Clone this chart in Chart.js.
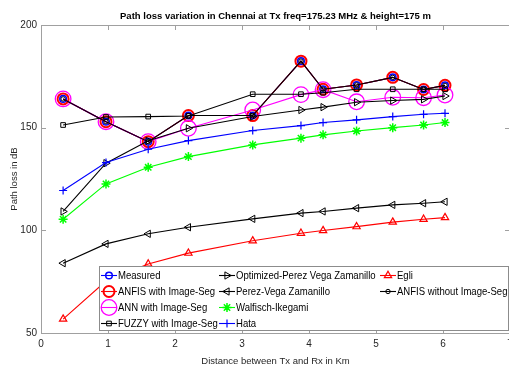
<!DOCTYPE html>
<html>
<head>
<meta charset="utf-8">
<script src="https://cdn.jsdelivr.net/npm/chart.js@4.4.1/dist/chart.umd.min.js"></script>
<style>
  html, body { margin: 0; padding: 0; background: #fff; overflow: hidden; }
  #wrap { width: 550px; height: 372px; }
</style>
</head>
<body>
<div id="wrap"><canvas id="pathLoss" width="550" height="372"></canvas></div>
<script>
// distance between Tx and Rx (km)
const distance = [0.33, 0.97, 1.6, 2.2, 3.16, 3.88, 4.21, 4.71, 5.25, 5.71, 6.03];

// path loss values (dB) per model
const measured   = [164.0, 152.9, 143.2, 155.9, 155.9, 182.4, 168.7, 170.8, 174.5, 168.6, 170.6];
const anfisSeg   = [164.0, 152.9, 143.2, 155.9, 155.9, 182.4, 168.7, 170.8, 174.5, 168.6, 170.6];
const annSeg     = [164.0, 152.9, 143.2, 149.7, 158.6, 166.1, 168.5, 162.6, 164.8, 164.6, 165.9];
const fuzzySeg   = [151.3, 155.2, 155.4, 155.7, 166.3, 166.3, 167.0, 168.7, 168.7, 168.7, 168.7];
const optPerez   = [109.2, 132.7, 143.6, 149.7, 155.4, 158.6, 160.0, 162.4, 163.2, 163.8, 165.4];
const perezVega  = [84.0, 93.4, 98.3, 101.5, 105.6, 108.4, 109.2, 110.8, 112.4, 113.2, 113.9];
const walfisch   = [105.4, 122.6, 130.7, 135.9, 141.6, 144.9, 146.5, 148.4, 150.0, 151.3, 152.5];
const hata       = [119.4, 133.0, 139.5, 143.7, 148.6, 151.0, 152.5, 153.8, 155.4, 156.5, 157.0];
const egli       = [56.8, 75.3, 83.6, 88.9, 94.9, 98.6, 99.9, 101.8, 104.0, 105.4, 106.2];
const anfisNoSeg = [164.0, 152.9, 143.2, 155.9, 155.9, 182.4, 168.7, 170.8, 174.5, 168.6, 170.6];

const xTicks = [0, 1, 2, 3, 4, 5, 6, 7];
const yTicks = [50, 100, 150, 200];

const FONT = "'Liberation Sans', Arial, sans-serif";
Chart.defaults.font.family = FONT;
Chart.defaults.color = '#262626';

function pts(values) {
  return values.map((v, i) => ({ x: distance[i], y: v }));
}

function series(label, values, color, style, radius, width, extra) {
  return Object.assign({
    label: label,
    data: pts(values),
    borderColor: color,
    backgroundColor: 'transparent',
    borderWidth: 1.1,
    pointStyle: style,
    pointRadius: radius,
    pointBorderColor: color,
    pointBackgroundColor: 'transparent',
    pointBorderWidth: width,
    pointRotation: 0,
    tension: 0
  }, extra || {});
}

const datasets = [
  series('Measured', measured, '#0000ff', 'circle', 3.3, 1.5),
  series('ANFIS with Image-Seg', anfisSeg, '#ff0000', 'circle', 5.5, 2),
  series('ANN with Image-Seg', annSeg, '#ff00ff', 'circle', 7.8, 1.3),
  series('FUZZY with Image-Seg', fuzzySeg, '#000000', 'rect', 3.3, 1),
  series('Optimized-Perez Vega Zamanillo', optPerez, '#000000', 'triangle', 4.2, 1, { pointRotation: 90 }),
  series('Perez-Vega Zamanillo', perezVega, '#000000', 'triangle', 4.2, 1, { pointRotation: -90 }),
  series('Walfisch-Ikegami', walfisch, '#00ff00', 'star', 4.5, 1.5),
  series('Hata', hata, '#0000ff', 'cross', 4, 1.2),
  series('Egli', egli, '#ff0000', 'triangle', 4.2, 1.2),
  series('ANFIS without Image-Seg', anfisNoSeg, '#000000', 'circle', 2.2, 1)
];
// later series are drawn on top
datasets.forEach((d, i) => { d.order = datasets.length - i; });

// box with inward tick marks on all four sides
const axesBox = {
  id: 'axesBox',
  beforeDatasetsDraw(chart) {
    const { ctx, chartArea: a, scales } = chart;
    ctx.save();
    ctx.strokeStyle = '#a0a0a0';
    ctx.lineWidth = 1;
    ctx.beginPath();
    ctx.rect(Math.round(a.left) + 0.5, Math.round(a.top) + 0.5,
             Math.round(a.right - a.left), Math.round(a.bottom - a.top));
    const len = 5;
    xTicks.forEach(t => {
      const px = Math.round(scales.x.getPixelForValue(t)) + 0.5;
      ctx.moveTo(px, a.bottom); ctx.lineTo(px, a.bottom - len);
      ctx.moveTo(px, a.top); ctx.lineTo(px, a.top + len);
    });
    yTicks.forEach(t => {
      const py = Math.round(scales.y.getPixelForValue(t)) + 0.5;
      ctx.moveTo(a.left, py); ctx.lineTo(a.left + len, py);
      ctx.moveTo(a.right, py); ctx.lineTo(a.right - len, py);
    });
    ctx.stroke();
    ctx.restore();
  }
};

// three-column boxed legend in the lower right
const boxLegend = {
  id: 'boxLegend',
  afterDatasetsDraw(chart) {
    const { ctx, chartArea: a } = chart;
    const left = a.left + 58, top = a.bottom - 67;
    const right = a.right - 2, bottom = a.bottom - 3;
    ctx.save();
    ctx.fillStyle = '#ffffff';
    ctx.fillRect(left, top, right - left, bottom - top);
    ctx.strokeStyle = '#8c8c8c';
    ctx.lineWidth = 1;
    ctx.strokeRect(Math.round(left) + 0.5, Math.round(top) + 0.5,
                   Math.round(right - left), Math.round(bottom - top));

    const cols = [
      [0, 1, 2, 3],
      [4, 5, 6, 7],
      [8, 9]
    ];
    const colX = [left + 2, left + 120, left + 281];
    const rowH = 16;
    ctx.font = '10.5px ' + FONT;
    ctx.textBaseline = 'middle';
    cols.forEach((col, c) => {
      col.forEach((di, r) => {
        const ds = chart.data.datasets[di];
        const y = top + 9.5 + r * rowH;
        const x0 = colX[c];
        ctx.strokeStyle = ds.borderColor;
        ctx.lineWidth = 1.1;
        ctx.beginPath();
        ctx.moveTo(x0, y); ctx.lineTo(x0 + 16, y);
        ctx.stroke();
        ctx.strokeStyle = ds.pointBorderColor;
        ctx.fillStyle = 'rgba(0,0,0,0)';
        ctx.lineWidth = ds.pointBorderWidth;
        Chart.helpers.drawPoint(ctx, {
          pointStyle: ds.pointStyle,
          radius: ds.pointRadius,
          rotation: ds.pointRotation,
          borderWidth: ds.pointBorderWidth
        }, x0 + 8, y);
        // labels are set a little condensed
        ctx.save();
        ctx.translate(x0 + 17, y + 0.5);
        ctx.scale(0.91, 1);
        ctx.fillStyle = '#000000';
        ctx.fillText(ds.label, 0, 0);
        ctx.restore();
      });
    });
    ctx.restore();
  }
};

new Chart(document.getElementById('pathLoss'), {
  type: 'line',
  data: { datasets: datasets },
  options: {
    responsive: false,
    animation: false,
    layout: { padding: { left: 0, right: 40, top: 0, bottom: 0 } },
    plugins: {
      legend: { display: false },
      tooltip: { enabled: false },
      title: {
        display: true,
        fullSize: false,
        text: 'Path loss variation in Chennai at Tx freq=175.23 MHz & height=175 m',
        color: '#000000',
        font: { size: 9.5, weight: 'bold' },
        padding: { top: 11, bottom: 2.6 }
      }
    },
    scales: {
      x: {
        type: 'linear',
        min: 0,
        max: 7,
        afterFit: s => { s.height = 39; },
        afterBuildTicks: s => { s.ticks = xTicks.map(v => ({ value: v })); },
        grid: { display: false, drawTicks: false },
        border: { display: false },
        ticks: { padding: 5, font: { size: 10 }, maxRotation: 0 },
        title: {
          display: true,
          text: 'Distance between Tx and Rx in Km',
          font: { size: 9.5 },
          padding: { top: 0, bottom: 5 }
        }
      },
      y: {
        min: 50,
        max: 200,
        afterFit: s => { s.width = 41; },
        afterBuildTicks: s => { s.ticks = yTicks.map(v => ({ value: v })); },
        grid: { display: false, drawTicks: false },
        border: { display: false },
        ticks: { padding: 4, font: { size: 10 } },
        title: {
          display: true,
          text: 'Path loss in dB',
          font: { size: 9.5 },
          padding: { top: 9, bottom: 0 }
        }
      }
    }
  },
  plugins: [axesBox, boxLegend]
});
</script>
</body>
</html>
